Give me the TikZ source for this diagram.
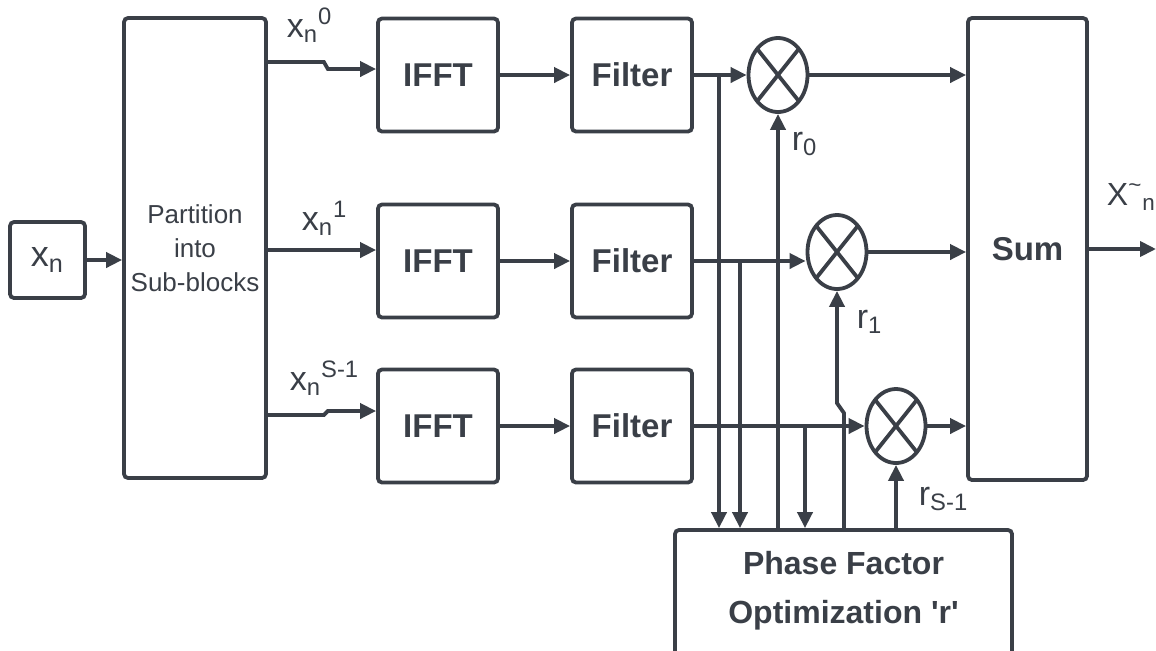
\documentclass[tikz,border=0pt]{standalone}
\usepackage{fontspec}
\setmainfont{Liberation Sans}
\usetikzlibrary{arrows.meta,shapes.geometric}
\definecolor{ink}{RGB}{58,63,71}
\begin{document}
\begin{tikzpicture}[x=0.5pt,y=-0.5pt,line width=1.9pt,color=ink]
	\tikzset{blk/.style={draw,rounded corners=2pt,inner sep=0pt,minimum width=60pt,minimum height=56.5pt,font=\bfseries\fontsize{16.5}{19}\selectfont},
	mult/.style={draw,ellipse,inner sep=0pt,minimum width=29.5pt,minimum height=37pt,path picture={\draw(path picture bounding box.north west)--(path picture bounding box.south east)(path picture bounding box.north east)--(path picture bounding box.south west);}},
	lab/.style={anchor=base west,inner sep=0pt,font=\fontsize{17}{20}\selectfont},
	arr/.style={-{Stealth[inset=0pt,length=8pt,width=7.5pt]}}}
	\useasboundingbox(0,0)rectangle(1156,650);
	\clip(0,0)rectangle(1156,650);
	\path(47.5,260)node[draw,rounded corners=2pt,minimum width=37.5pt,minimum height=38pt,font=\fontsize{18}{21}\selectfont](xn){x\textsubscript{n}};
	\path(195,248)node[draw,rounded corners=2pt,minimum width=67pt,minimum height=230pt,align=center,font=\fontsize{13}{17}\selectfont](part){Partition\\into\\Sub-blocks};
	\path(438,75)node[blk](i1){IFFT}(632,75)node[blk](f1){Filter}(778,75)node[mult](c1){};
	\path(438,261)node[blk](i2){IFFT}(632,261)node[blk](f2){Filter}(837,252)node[mult](c2){};
	\path(438,426)node[blk](i3){IFFT}(632,426)node[blk](f3){Filter}(896,426)node[mult](c3){};
	\path(1027.5,249)node[draw,rounded corners=2pt,minimum width=59.5pt,minimum height=231pt,font=\bfseries\fontsize{16.5}{19}\selectfont](sum){Sum};
	\path(843.5,595)node[draw,rounded corners=2pt,minimum width=168.5pt,minimum height=65pt,text depth=7.5pt,align=center,font=\bfseries\fontsize{16}{24.5}\selectfont](opt){Phase Factor\\Optimization \textquotesingle r\textquotesingle};
	\coordinate(t1)at(719,0);
	\coordinate(t2)at(740,0);
	\coordinate(t3)at(805,0);
	\coordinate(out)at(1156,249);
	% labels
	\path(285,37)node[lab](lx0){x\textsubscript{n}\textsuperscript{0}};
	\path(300,230)node[lab](lx1){x\textsubscript{n}\textsuperscript{1}};
	\path(288,390)node[lab](lxs){x\textsubscript{n}\textsuperscript{S-1}};
	\path(790,150)node[lab](lr0){r\textsubscript{0}};
	\path(855,328)node[lab](lr1){r\textsubscript{1}};
	\path(917,505)node[lab](lrs){r\textsubscript{S-1}};
	\path(1105,205)node[lab,font=\fontsize{16}{19}\selectfont](lout){X\textsuperscript{\textasciitilde}\textsubscript{n}};
	% connectors
	\draw[arr](xn)--(part.west|-xn.east);
	\draw[arr]([yshift=6.5pt]i1.west-|part.east)--++(56,0)--++(4,7)--([yshift=3pt]i1.west);
	\draw[arr]([yshift=5.5pt]i2.west-|part.east)--([yshift=5.5pt]i2.west);
	\draw[arr]([yshift=5.5pt]i3.west-|part.east)--++(56,0)--++(4,-4)--([yshift=7.5pt]i3.west);
	\foreach \x/\y in {i1/f1,i2/f2,i3/f3,f1/c1,f3/c3,sum/out}
	\draw[arr](\x)--(\y);
	\draw[arr](f2.east)--(f2.east-|c2.west);
	\foreach \x in {c1,c2,c3}
	\draw[arr](\x)--(\x-|sum.west);
	\draw[arr](f1.east-|t1)--(opt.north-|t1);
	\draw[arr](f2.east-|t2)--(opt.north-|t2);
	\draw[arr](f3.east-|t3)--(opt.north-|t3);
	\draw[arr](opt.north-|c1)--(c1.south);
	\draw[arr]([xshift=3.5pt]opt.north-|c2)--++(0,-115)--++(-7,-10)--(c2.south);
	\draw[arr](opt.north-|c3)--(c3.south);
\end{tikzpicture}
\end{document}
